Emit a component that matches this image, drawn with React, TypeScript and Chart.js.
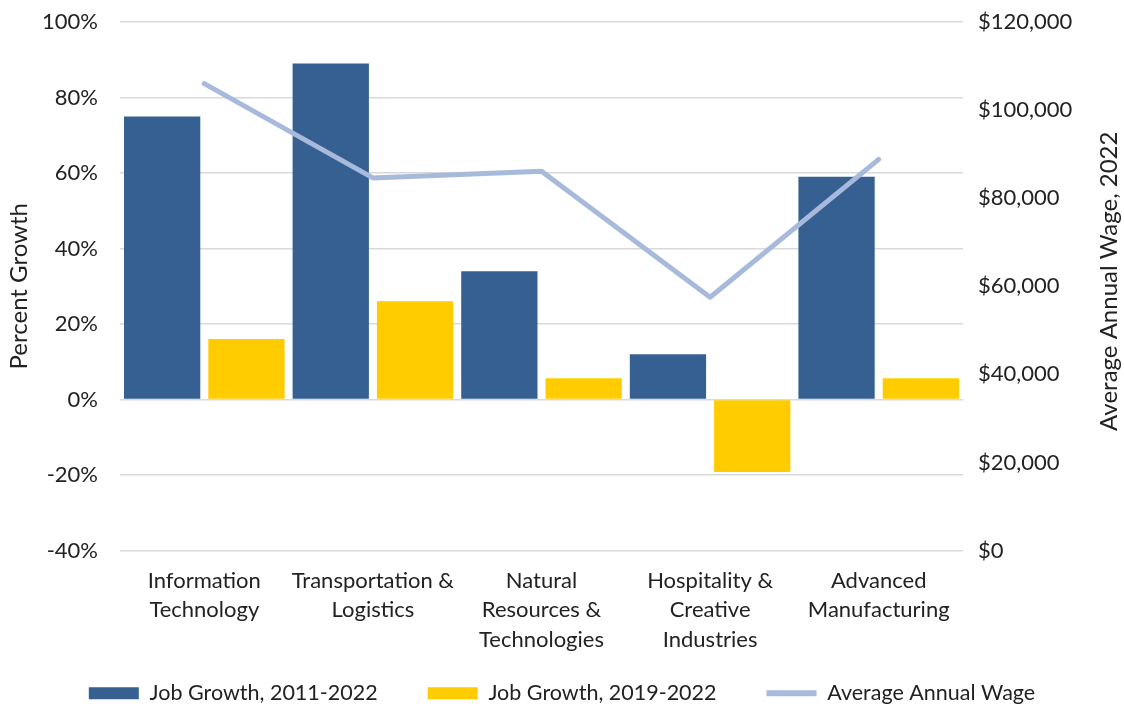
import React, { useEffect, useRef } from 'react';
import { Chart, registerables } from 'chart.js';

Chart.register(...registerables);

const categories: string[][] = [
  ['Information', 'Technology'],
  ['Transportation &', 'Logistics'],
  ['Natural', 'Resources &', 'Technologies'],
  ['Hospitality &', 'Creative', 'Industries'],
  ['Advanced', 'Manufacturing'],
];
const jobGrowth2011 = [75, 89, 34, 12, 59];
const jobGrowth2019 = [16, 26, 5.6, -19.2, 5.6];
const avgWage = [106000, 84600, 86100, 57500, 88800];

const seriesLabels = ['Job Growth, 2011-2022', 'Job Growth, 2019-2022', 'Average Annual Wage'];
const leftTitle = 'Percent Growth';
const rightTitle = 'Average Annual Wage, 2022';

const BLUE = '#376092';
const YELLOW = '#FFCC00';
const LINE = '#A7BADB';
const TEXT = '#222222';
const GRID = '#D9D9D9';

const rightTitlePlugin = {
  id: 'rightTitlePlugin',
  afterDraw(chart: any) {
    const { ctx, chartArea } = chart;
    ctx.save();
    ctx.font = '24px Lato';
    ctx.fillStyle = TEXT;
    ctx.textAlign = 'center';
    ctx.textBaseline = 'middle';
    ctx.translate(chart.width - 15, (chartArea.top + chartArea.bottom) / 2 - 5);
    ctx.rotate(-Math.PI / 2);
    ctx.fillText(rightTitle, 0, 0);
    ctx.restore();
  },
};

const noVerticalPadding = (s: any) => {
  s.paddingTop = 0;
  s.paddingBottom = 0;
};

export default function App() {
  const ref = useRef<HTMLCanvasElement | null>(null);

  useEffect(() => {
    if (!ref.current) return;
    Chart.defaults.font.family = 'Lato';
    Chart.defaults.color = TEXT;
    const chart = new Chart(ref.current, {
      type: 'bar',
      data: {
        labels: categories,
        datasets: [
          {
            type: 'bar',
            label: seriesLabels[0],
            data: jobGrowth2011,
            backgroundColor: BLUE,
            yAxisID: 'y',
            order: 2,
          },
          {
            type: 'bar',
            label: seriesLabels[1],
            data: jobGrowth2019,
            backgroundColor: YELLOW,
            yAxisID: 'y',
            order: 2,
          },
          {
            type: 'line',
            label: seriesLabels[2],
            data: avgWage,
            borderColor: LINE,
            backgroundColor: LINE,
            borderWidth: 5,
            pointRadius: 0,
            borderCapStyle: 'round',
            borderJoinStyle: 'round',
            yAxisID: 'y1',
            order: 1,
          } as any,
        ],
      },
      options: {
        animation: false,
        responsive: true,
        maintainAspectRatio: false,
        layout: { padding: { top: 22, left: 0, right: 0, bottom: -10 } },
        datasets: {
          bar: { categoryPercentage: 1.0, barPercentage: 0.905 },
        },
        plugins: {
          tooltip: { enabled: false },
          legend: {
            position: 'bottom',
            maxHeight: 83,
            labels: {
              font: { size: 21.5 },
              color: TEXT,
              usePointStyle: true,
              pointStyleWidth: 50,
              boxHeight: 12,
              padding: 50,
              generateLabels: (chart: any) =>
                chart.data.datasets.map((ds: any, i: number) => ({
                  text: ds.label,
                  fillStyle: ds.type === 'line' ? ds.borderColor : ds.backgroundColor,
                  strokeStyle: ds.type === 'line' ? ds.borderColor : ds.backgroundColor,
                  lineWidth: ds.type === 'line' ? 6 : 0,
                  pointStyle: ds.type === 'line' ? 'line' : 'rect',
                  hidden: false,
                  datasetIndex: i,
                  fontColor: TEXT,
                })),
            },
          },
        },
        scales: {
          x: {
            grid: { display: false },
            border: { display: false },
            ticks: { font: { size: 22, lineHeight: 1.33 }, padding: 8, maxRotation: 0, autoSkip: false },
            afterFit: (s: any) => {
              s.height = 82;
              s._computeLabelArea = () => undefined;
            },
          },
          y: {
            position: 'left',
            min: -40,
            max: 100,
            ticks: { stepSize: 20, font: { size: 22 }, padding: 22, callback: (v: any) => `${v}%` },
            grid: { color: GRID, lineWidth: 1.5, drawTicks: false },
            border: { display: false },
            title: { display: true, text: leftTitle, font: { size: 24 }, padding: { top: 5, bottom: 0 } },
            afterFit: (s: any) => {
              s.width = 120;
              noVerticalPadding(s);
            },
          },
          y1: {
            position: 'right',
            min: 0,
            max: 120000,
            ticks: {
              stepSize: 20000,
              font: { size: 22 },
              padding: 15,
              callback: (v: any) => '$' + Number(v).toLocaleString('en-US'),
            },
            grid: { drawOnChartArea: false, drawTicks: false },
            border: { display: false },
            afterFit: (s: any) => {
              s.width = 161;
              noVerticalPadding(s);
            },
          },
        },
      } as any,
      plugins: [rightTitlePlugin],
    });
    return () => chart.destroy();
  }, []);

  return (
    <div style={{ position: 'absolute', left: 0, top: 0, width: 1124, height: 704, background: '#fff' }}>
      <canvas ref={ref} />
    </div>
  );
}
